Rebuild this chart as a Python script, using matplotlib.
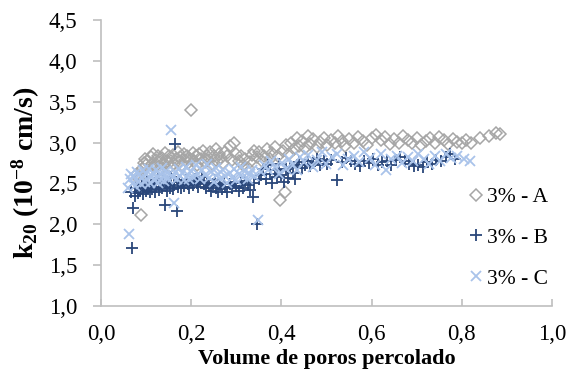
import matplotlib
matplotlib.use("Agg")
import matplotlib.pyplot as plt
from matplotlib.ticker import FuncFormatter

# Series A (3% - A)
a_x = [0.080,0.085,0.089,0.092,0.095,0.098,0.100,0.103,0.106,0.110,0.113,0.116,0.120,0.123,0.126,0.130,0.133,0.136,0.140,0.143,0.146,0.150,0.153,0.156,0.160,0.163,0.166,0.170,0.173,0.176,0.180,0.183,0.186,0.190,0.193,0.196,0.200,0.203,0.206,0.210,0.214,0.218,0.222,0.226,0.230,0.234,0.238,0.242,0.246,0.250,0.254,0.258,0.262,0.266,0.270,0.275,0.280,0.285,0.290,0.295,0.300,0.305,0.310,0.315,0.320,0.325,0.330,0.335,0.340,0.345,0.350,0.356,0.362,0.368,0.374,0.380,0.386,0.392,0.398,0.404,0.407,0.410,0.416,0.422,0.428,0.434,0.440,0.446,0.452,0.458,0.464,0.470,0.478,0.486,0.494,0.502,0.510,0.518,0.526,0.534,0.542,0.550,0.560,0.570,0.580,0.590,0.600,0.610,0.620,0.630,0.640,0.650,0.660,0.670,0.680,0.690,0.700,0.710,0.720,0.730,0.740,0.750,0.760,0.770,0.780,0.790,0.800,0.810,0.820,0.840,0.860,0.875,0.885]
a_y = [2.62,2.55,2.11,2.68,2.75,2.80,2.72,2.78,2.65,2.82,2.74,2.86,2.70,2.79,2.84,2.76,2.68,2.81,2.73,2.87,2.77,2.83,2.70,2.78,2.85,2.74,2.80,2.88,2.76,2.82,2.72,2.86,2.79,2.84,2.75,2.81,3.40,2.87,2.78,2.83,2.73,2.86,2.80,2.90,2.76,2.84,2.79,2.88,2.74,2.83,2.92,2.78,2.86,2.81,2.75,2.89,2.84,2.96,2.79,2.99,2.86,2.77,2.83,2.72,2.80,2.69,2.76,2.85,2.90,2.82,2.88,2.78,2.84,2.92,2.80,2.87,2.95,2.83,2.30,2.90,2.40,2.97,2.86,3.00,2.92,3.05,2.96,3.02,2.93,3.08,2.98,3.04,2.95,3.01,3.06,2.97,3.03,2.99,3.08,3.02,2.96,3.04,3.00,3.07,3.02,2.97,3.05,3.09,3.03,3.07,2.98,3.04,3.00,3.08,3.03,2.99,3.05,2.97,3.02,3.06,3.00,3.07,3.03,2.98,3.04,3.01,2.99,3.03,3.00,3.05,3.08,3.12,3.10]

# Series B (3% - B)
b_x = [0.066,0.069,0.072,0.075,0.078,0.081,0.084,0.087,0.090,0.093,0.096,0.099,0.102,0.105,0.108,0.111,0.114,0.117,0.120,0.123,0.126,0.129,0.132,0.135,0.138,0.141,0.144,0.147,0.150,0.153,0.156,0.159,0.162,0.165,0.168,0.171,0.174,0.177,0.180,0.184,0.188,0.192,0.196,0.200,0.204,0.208,0.212,0.216,0.220,0.224,0.228,0.232,0.236,0.240,0.244,0.248,0.252,0.256,0.260,0.264,0.268,0.272,0.276,0.280,0.285,0.290,0.295,0.300,0.305,0.310,0.315,0.320,0.325,0.330,0.336,0.340,0.345,0.350,0.355,0.360,0.365,0.370,0.375,0.380,0.385,0.390,0.395,0.400,0.405,0.410,0.415,0.420,0.425,0.430,0.435,0.440,0.446,0.452,0.458,0.464,0.470,0.478,0.486,0.494,0.502,0.510,0.524,0.534,0.544,0.554,0.564,0.574,0.584,0.594,0.604,0.614,0.624,0.634,0.644,0.654,0.664,0.674,0.684,0.694,0.704,0.714,0.724,0.734,0.744,0.754,0.764,0.774,0.784]
b_y = [2.40,1.71,2.20,2.35,2.45,2.38,2.48,2.42,2.50,2.37,2.46,2.41,2.52,2.44,2.39,2.48,2.43,2.51,2.40,2.46,2.55,2.42,2.49,2.44,2.53,2.24,2.47,2.41,2.50,2.45,2.58,2.43,2.48,2.98,2.16,2.46,2.52,2.44,2.50,2.47,2.54,2.49,2.45,2.52,2.48,2.55,2.50,2.46,2.53,2.58,2.49,2.44,2.51,2.47,2.41,2.49,2.54,2.45,2.40,2.48,2.43,2.51,2.46,2.40,2.49,2.44,2.52,2.47,2.41,2.50,2.45,2.53,2.48,2.42,2.33,2.50,2.00,2.55,2.60,2.68,2.56,2.72,2.62,2.50,2.66,2.58,2.74,2.60,2.52,2.68,2.57,2.70,2.63,2.55,2.72,2.76,2.69,2.73,2.78,2.71,2.75,2.80,2.72,2.77,2.74,2.79,2.54,2.76,2.81,2.78,2.74,2.71,2.77,2.75,2.80,2.73,2.76,2.78,2.72,2.79,2.82,2.77,2.74,2.71,2.73,2.70,2.76,2.74,2.79,2.77,2.82,2.86,2.80]

# Series C (3% - C)
c_x = [0.060,0.062,0.064,0.067,0.070,0.073,0.076,0.079,0.082,0.085,0.088,0.091,0.094,0.097,0.100,0.103,0.106,0.109,0.112,0.115,0.118,0.121,0.124,0.127,0.130,0.133,0.136,0.139,0.142,0.145,0.148,0.151,0.156,0.159,0.162,0.165,0.168,0.172,0.176,0.180,0.184,0.188,0.192,0.196,0.200,0.205,0.210,0.215,0.220,0.225,0.230,0.235,0.240,0.245,0.250,0.255,0.260,0.265,0.270,0.275,0.280,0.285,0.290,0.295,0.300,0.305,0.310,0.315,0.320,0.325,0.330,0.335,0.340,0.349,0.355,0.362,0.370,0.378,0.386,0.394,0.402,0.410,0.418,0.426,0.434,0.442,0.450,0.460,0.470,0.480,0.490,0.500,0.512,0.524,0.536,0.548,0.560,0.572,0.584,0.596,0.608,0.620,0.632,0.644,0.656,0.668,0.680,0.692,0.704,0.716,0.728,0.740,0.752,0.764,0.776,0.790,0.805,0.818]
c_y = [2.45,1.88,2.55,2.62,2.50,2.58,2.47,2.64,2.53,2.60,2.49,2.57,2.66,2.52,2.61,2.55,2.68,2.50,2.59,2.63,2.54,2.67,2.57,2.51,2.62,2.56,2.69,2.53,2.60,2.65,2.55,2.62,3.15,2.58,2.26,2.64,2.55,2.68,2.59,2.63,2.54,2.70,2.60,2.56,2.65,2.58,2.72,2.62,2.55,2.67,2.60,2.74,2.57,2.64,2.52,2.69,2.61,2.55,2.66,2.59,2.50,2.63,2.57,2.68,2.54,2.62,2.70,2.58,2.65,2.55,2.61,2.67,2.59,2.05,2.64,2.72,2.66,2.78,2.70,2.62,2.75,2.68,2.80,2.73,2.66,2.82,2.76,2.85,2.70,2.79,2.88,2.74,2.82,2.86,2.72,2.80,2.84,2.76,2.88,2.81,2.73,2.86,2.66,2.80,2.84,2.75,2.82,2.78,2.86,2.80,2.74,2.83,2.78,2.86,2.81,2.84,2.80,2.77]

labels = ["3% - A", "3% - B", "3% - C"]
x_ticks = [0.0, 0.2, 0.4, 0.6, 0.8, 1.0]
y_ticks = [1.0, 1.5, 2.0, 2.5, 3.0, 3.5, 4.0, 4.5]

plt.rcParams['font.family'] = ['Liberation Serif', 'DejaVu Serif']
plt.rcParams['mathtext.fontset'] = 'custom'
plt.rcParams['mathtext.rm'] = 'Liberation Serif:bold'
plt.rcParams['mathtext.bf'] = 'Liberation Serif:bold'
plt.rcParams['mathtext.default'] = 'bf'

fig = plt.figure(figsize=(5.69, 3.76), dpi=100)
ax = fig.add_axes([0.1775, 0.186, 0.7925, 0.761])

ax.plot(a_x, a_y, linestyle='none', marker='D', markersize=6, markerfacecolor='none',
        markeredgecolor='#a6a6a6', markeredgewidth=1.1, label=labels[0])
ax.plot(b_x, b_y, linestyle='none', marker='+', markersize=8.5, markeredgecolor='#2a477a',
        markeredgewidth=1.3, label=labels[1])
ax.plot(c_x, c_y, linestyle='none', marker='x', markersize=7.5, markeredgecolor='#a9c3ea',
        markeredgewidth=1.3, label=labels[2])

ax.set_xlim(0, 1.0)
ax.set_ylim(1.0, 4.5)
ax.set_xticks(x_ticks)
ax.set_yticks(y_ticks)
fmt = FuncFormatter(lambda v, p: f"{v:.1f}".replace('.', ','))
ax.xaxis.set_major_formatter(fmt)
ax.yaxis.set_major_formatter(fmt)

for s in ['top', 'right']:
    ax.spines[s].set_visible(False)
for s in ['left', 'bottom']:
    ax.spines[s].set_color('#bfbfbf')
    ax.spines[s].set_linewidth(1.2)
ax.tick_params(axis='both', colors='#bfbfbf', width=1.2, labelsize=16.5, labelcolor='black')
ax.tick_params(axis='y', direction='out', length=6, pad=11)
ax.tick_params(axis='x', direction='in', length=5, pad=13)

ax.set_xlabel('Volume de poros percolado', fontsize=16, fontweight='bold', labelpad=3)
ax.set_ylabel(r'k$_{20}$ (10$^{-8}$ cm/s)', fontsize=20, fontweight='bold')
ax.yaxis.set_label_coords(-0.13, 0.465)

leg = ax.legend(loc='center left', bbox_to_anchor=(0.812, 0.238), frameon=False,
                fontsize=15.5, labelspacing=0.95, handletextpad=0.1, handlelength=0.8,
                borderaxespad=0, borderpad=0)

fig.savefig('out.png', dpi=100)
